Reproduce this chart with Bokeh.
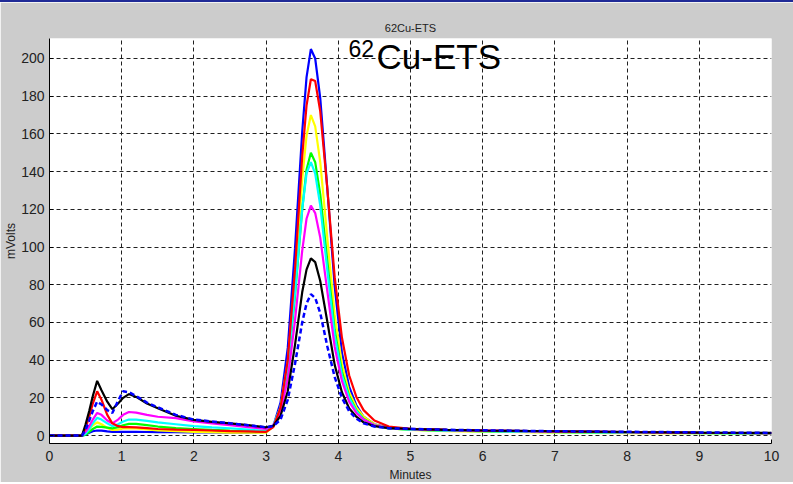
from bokeh.plotting import figure
from bokeh.models import Range1d, Label
from bokeh.embed import file_html
from bokeh.resources import INLINE

# Retention time (minutes) shared by all traces
T = [0, 0.45, 0.5, 0.55, 0.6, 0.66, 0.72, 0.8, 0.87, 0.95, 1.02, 1.1, 1.2, 1.35, 1.5, 1.75,
     2.0, 2.25, 2.5, 2.75,
     3.0, 3.1, 3.2, 3.3, 3.4, 3.5, 3.56, 3.62, 3.68, 3.75, 3.85, 3.95, 4.05, 4.15, 4.25, 4.35,
     4.5, 4.7,
     5.0, 5.5, 6.0, 7.0, 8.0, 9.0, 10.0]

# Detector signal (mVolts) for each run
blue_solid = [0, 0, 0.5, 1.5, 2.3, 2.7, 2.6, 2.2, 2, 2, 2, 2, 2, 1.9, 1.8, 1.8, 1.7, 1.7, 1.6, 1.6,
              2.0, 5, 17.5, 46.5, 99, 161, 190, 205, 200, 179, 130, 79, 44, 26, 16, 10, 6, 4.3,
              3.6, 3.0, 2.7, 2.2, 1.8, 1.5, 1.3]
yellow = [0, 0, 1.5, 3.5, 5.5, 7, 6, 4, 3, 3.2, 3.8, 4, 3.8, 3.3, 2.8, 2.3, 2, 1.8, 1.6, 1.5,
          1.5, 5, 15, 39, 83, 136, 159, 170, 164, 145, 104, 64, 38, 23, 15, 10, 6, 3.8,
          3.0, 2.4, 2.1, 1.6, 1.3, 1.1, 1.0]
green = [0, 0, 0.5, 2, 3.5, 4.8, 4.6, 4.2, 3.8, 4.5, 5.5, 6.2, 6.2, 5.5, 4.8, 4, 3.5, 3, 2.6, 2.3,
         2.2, 5, 14, 35, 74, 120, 141, 150, 145, 128, 92, 56, 34, 21, 13.5, 9, 5.5, 3.8,
         3.2, 2.6, 2.3, 1.9, 1.6, 1.4, 1.2]
cyan = [0, 0, 1, 3.5, 6.5, 9.4, 8.5, 6.5, 5, 6, 7.5, 8.5, 8.5, 7.8, 7, 6, 5, 4.4, 3.9, 3.2,
        2.5, 5.5, 15, 37, 76, 120, 139, 145, 139, 122, 87, 53, 32, 20, 13, 8.5, 5.5, 3.8,
        3.2, 2.6, 2.3, 1.8, 1.5, 1.3, 1.1]
magenta = [0, 0, 2, 5, 8.5, 12, 11, 8, 6.5, 8.5, 11, 12.5, 12.2, 11, 10, 9.3, 7.5, 6.5, 5.5, 4.5,
           3.6, 5.5, 12.5, 30, 61, 98, 115, 122, 118, 105, 76, 47, 29, 18, 12, 8.5, 5.5, 4,
           3.4, 2.9, 2.6, 2.1, 1.8, 1.5, 1.3]
red = [0, 0, 4, 10, 17, 23.5, 19, 11, 6.5, 5, 4.5, 4.5, 4.4, 4, 3.5, 3.2, 3, 2.7, 2.4, 2.2,
       2.0, 4.5, 15, 40, 88, 148, 175, 189, 188, 172, 130, 84, 52, 32, 20.5, 13.5, 8, 4.8,
       3.6, 3.0, 2.7, 2.2, 1.8, 1.5, 1.3]
black = [0, 0, 6, 13, 21, 29, 24, 18, 14, 17, 20, 22, 20.5, 17, 14.5, 10.5, 8.3, 7.3, 6.5, 5.5,
         4.4, 5.2, 10.5, 23.5, 48, 76, 88, 94, 92, 82, 60, 37.5, 23, 14.5, 10, 7, 5, 4,
         3.5, 3.0, 2.7, 2.3, 1.9, 1.6, 1.4]
blue_dashed = [0, 0, 3, 8, 13, 18, 16.5, 13.5, 12, 18.5, 23.5, 23, 21, 17.5, 15, 11, 8.5, 7.5, 6.5, 5.5,
               4.4, 5, 8.5, 19, 38, 60, 70, 75, 73, 65, 47, 31, 20, 13, 9, 6.5, 4.8, 3.9,
               3.6, 3.1, 2.8, 2.3, 2.0, 1.7, 1.4]

x_ticks = [0, 1, 2, 3, 4, 5, 6, 7, 8, 9, 10]
y_ticks = [0, 20, 40, 60, 80, 100, 120, 140, 160, 180, 200]

FONT = "Liberation Sans"

p = figure(width=793, height=482, output_backend="svg", toolbar_location=None,
           x_range=Range1d(0, 10), y_range=Range1d(-4.2, 210.6),
           min_border_left=49, min_border_right=22, min_border_top=36, min_border_bottom=41,
           background_fill_color="white", border_fill_color="#cccccc",
           outline_line_color=None)
p.styles = {"border-top": "2px solid #1f2a96"}

p.title.text = "62Cu-ETS"
p.title.align = "center"
p.title.text_font = FONT
p.title.text_font_size = "11px"
p.title.text_font_style = "normal"
p.title.text_color = "#222222"
p.title.standoff = 9

for ax in (p.xaxis[0], p.yaxis[0]):
    ax.major_label_text_font = FONT
    ax.major_label_text_font_size = "14px"
    ax.major_label_text_color = "#222222"
    ax.axis_line_color = "black"
    ax.major_tick_in = 4
    ax.major_tick_out = 0
    ax.minor_tick_line_color = None
    ax.axis_label_text_font = FONT
    ax.axis_label_text_font_size = "12px"
    ax.axis_label_text_font_style = "normal"
    ax.axis_label_text_color = "#222222"

p.xaxis.ticker = x_ticks
p.yaxis.ticker = y_ticks
p.xaxis.major_label_standoff = 7
p.yaxis.major_label_standoff = 5
p.xaxis.axis_label = "Minutes"
p.xaxis.axis_label_standoff = 4
p.yaxis.axis_label = "mVolts"
p.yaxis.axis_label_standoff = 0

for g in (p.xgrid, p.ygrid):
    g.grid_line_color = "#202020"
    g.grid_line_dash = "4 3"
    g.grid_line_width = 1
    g.grid_line_alpha = 1.0

traces = [
    (blue_solid, "#0000ff", "solid"),
    (yellow, "#ffff00", "solid"),
    (green, "#00ff00", "solid"),
    (cyan, "#00ffff", "solid"),
    (magenta, "#ff00ff", "solid"),
    (red, "#ff0000", "solid"),
    (black, "#000000", "solid"),
]
for ys, col, dash in traces:
    p.line(T, ys, line_color=col, line_width=2.2, line_dash=dash)
p.line(T, blue_dashed, line_color="#0000ff", line_width=2.5, line_dash="5 3")

# compound name with superscript mass number
p.add_layout(Label(x=4.14, y=205.5, text="62", text_font=FONT, text_font_size="23px",
                   text_color="black", text_baseline="alphabetic"))
p.add_layout(Label(x=4.53, y=201, text="Cu-ETS", text_font=FONT, text_font_size="35px",
                   text_color="black", text_baseline="alphabetic"))

open("out.html", "w").write(file_html(p, INLINE))
